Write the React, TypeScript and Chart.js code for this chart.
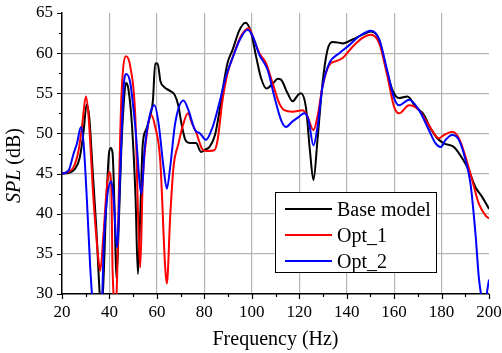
import React, { useEffect, useRef } from "react";
import { Chart, registerables } from "chart.js";

Chart.register(...registerables);

const baseFreq = [20, 23, 25.5, 27.5, 29, 30.4, 31.5, 33, 34.5, 35.8, 36.5, 37.3, 38.5, 39.8, 40.5, 41.3, 42.2, 42.9, 43.5, 45, 46.2, 47, 48, 49.5, 51, 52, 53, 54, 55.5, 57, 58.3, 59.3, 60.3, 61.5, 63, 65.5, 67.5, 69, 70.5, 72, 74, 76.5, 78.6, 80.5, 82.1, 84.5, 86.5, 87.7, 89.8, 91.9, 94.7, 97.3, 99.6, 101.8, 103.9, 106.2, 108.8, 111, 112.3, 115.1, 117.2, 119.5, 120.7, 122.8, 124.5, 126, 127.7, 129.8, 131.9, 134, 136.8, 138.3, 142.5, 146.7, 150.2, 153.7, 156.5, 159.3, 162.1, 165.6, 169.1, 172.6, 175.4, 178.2, 181, 185.2, 188.7, 191.5, 194.3, 197.1, 200];
const baseSpl = [45, 45.1, 45.6, 47, 50, 53.6, 52, 45, 38, 30.5, 28, 30.5, 40, 47.5, 48.2, 47.6, 40, 32, 35, 48, 54.5, 56.3, 55.5, 51, 42, 32.5, 40, 48.5, 50.5, 52, 54, 58.7, 58.7, 56.5, 55.8, 55.3, 54.8, 53.5, 51, 49.2, 48.8, 48.8, 47.7, 48, 48.3, 49.8, 53, 55.4, 58.8, 60.4, 62.8, 63.8, 62.7, 59.6, 56.9, 55.6, 56.2, 56.8, 56.7, 55, 54, 54.8, 55, 53.3, 47.9, 44.2, 49.2, 56.2, 60.4, 61.4, 61.3, 61.2, 61.7, 62.3, 62.7, 61.7, 58.3, 55.4, 54.4, 54.6, 53.3, 52.3, 50.6, 49.4, 48.75, 48.3, 46.9, 45.4, 43.3, 42.1, 40.6];

const opt1Freq = [20, 22.5, 24.9, 27, 28.4, 30.1, 31.2, 33.3, 35.4, 36.1, 37.5, 38.9, 39.9, 40.8, 41.3, 42.2, 42.7, 43.3, 43.9, 45, 47, 48.8, 50.9, 52.3, 53, 54, 55.8, 57.6, 59.3, 61.4, 63.5, 64.2, 65.6, 67, 69.1, 71.2, 73.1, 74.8, 76.5, 77.6, 79, 80.7, 84.2, 85.6, 87.7, 89.8, 92.6, 95.4, 98.7, 100.4, 103.2, 106, 108.8, 111.6, 113.7, 117.2, 121.4, 123.5, 126, 127.7, 129.8, 132.6, 135.5, 138.3, 142.5, 146.7, 150.2, 153.7, 157.2, 160, 162.1, 166.3, 170.5, 174.7, 178.9, 181, 184.5, 187.3, 190.1, 192.9, 195.7, 198.5, 200];
const opt1Spl = [45, 45.2, 45.8, 47.9, 50.8, 54.6, 52.1, 41.7, 34.2, 32.9, 37.5, 43.3, 45.2, 43.3, 33.3, 28.5, 28, 33, 41.7, 54.2, 59.6, 58.3, 52.1, 37.5, 33.3, 43.75, 50, 52.3, 50.8, 46.7, 33.3, 31.3, 39.6, 45.8, 48.75, 51.25, 52.5, 51.25, 50.2, 49.2, 48.1, 47.8, 47.9, 49.2, 54.2, 57.5, 60, 62.1, 63.1, 62.1, 60, 58.75, 56.25, 53.75, 52.9, 52.7, 52.9, 52.1, 50.4, 52.1, 55.8, 58.5, 59, 59.4, 60.8, 61.9, 62.3, 61.25, 57.1, 53.3, 52.5, 53.5, 52.9, 51, 49.4, 49.8, 50.2, 49.4, 47.1, 44.2, 41.25, 39.8, 39.4];

const opt2Freq = [20, 22.8, 24.9, 26.3, 28, 29.1, 30.5, 31.9, 32.6, 33.5, 34.5, 36, 37, 37.5, 38.9, 40.8, 41.8, 43.2, 44.6, 46, 47.1, 48.8, 50.9, 53.5, 54.8, 57.2, 59, 60.7, 62.8, 64.2, 65.6, 67.7, 71.2, 73.3, 76.1, 78.2, 80.7, 83.5, 86.3, 89.1, 91.9, 94.7, 98.2, 100.4, 103.2, 106.7, 109.5, 112.3, 114.4, 117.2, 120, 122.1, 123.9, 126, 127.7, 129.8, 132.6, 136.9, 141.1, 145.3, 150.2, 153.7, 157.2, 160, 162.1, 166.3, 170.5, 174.7, 177.5, 179.6, 181.7, 184.5, 187.3, 190.1, 192.2, 194.3, 195.7, 196.6, 197.5, 198.5, 199.2, 200];
const opt2Spl = [45, 45.4, 47.5, 48.75, 50.8, 48.75, 41.7, 33.3, 30, 26, 25, 26, 30, 35.4, 41.7, 44, 41.7, 35.8, 45.8, 55.8, 57.4, 56.25, 50.8, 42.5, 47.9, 52.5, 53.5, 51.25, 45.8, 43.1, 45.8, 51.25, 54.1, 52.9, 50.4, 50, 49.2, 50.8, 53.75, 57.1, 59.4, 61.5, 62.9, 62.1, 59.8, 57.9, 54.6, 51.7, 50.8, 51.5, 52.1, 52.5, 51.7, 48.5, 50.8, 55.8, 58.7, 60, 61, 62.1, 62.8, 61.7, 57.7, 54.4, 53.5, 54.2, 52.9, 50.4, 48.75, 48.3, 49.2, 49.8, 49.2, 46.7, 43.75, 37.5, 32.1, 30, 28, 28.5, 30.3, 31.8];

const seriesNames = ["Base model", "Opt_1", "Opt_2"];
const seriesColors = ["#000000", "#ff0000", "#0000ff"];

const xTicks = { min: 20, max: 200, step: 20, minor: 10 };
const yTicks = { min: 30, max: 65, step: 5, minor: 2.5 };

const FONT = "'Liberation Serif', 'Times New Roman', serif";

function toPoints(xs: number[], ys: number[]) {
  return xs.map((x, i) => ({ x, y: ys[i] }));
}

const decorPlugin = {
  id: "decor",
  afterDraw(chart: any) {
    const ctx = chart.ctx;
    const area = chart.chartArea;
    const xs = chart.scales.x;
    const ys = chart.scales.y;
    ctx.save();
    ctx.strokeStyle = "#000";
    ctx.lineWidth = 1.2;
    ctx.beginPath();
    for (let v = xTicks.min; v <= xTicks.max + 1e-6; v += xTicks.minor) {
      const px = Math.round(xs.getPixelForValue(v)) + 0.5;
      const major = Math.abs(v / xTicks.step - Math.round(v / xTicks.step)) < 1e-6;
      const len = major ? 5 : 3;
      ctx.moveTo(px, area.bottom);
      ctx.lineTo(px, area.bottom + len);
    }
    for (let v = yTicks.min; v <= yTicks.max + 1e-6; v += yTicks.minor) {
      const py = Math.round(ys.getPixelForValue(v)) + 0.5;
      const major = Math.abs(v / yTicks.step - Math.round(v / yTicks.step)) < 1e-6;
      const len = major ? 5 : 3;
      ctx.moveTo(area.left, py);
      ctx.lineTo(area.left - len, py);
    }
    ctx.stroke();

    ctx.fillStyle = "#000";
    ctx.font = `20px ${FONT}`;
    ctx.textAlign = "center";
    ctx.textBaseline = "alphabetic";
    ctx.fillText("Frequency (Hz)", (area.left + area.right) / 2, 345);

    ctx.save();
    ctx.translate(20, (area.top + area.bottom) / 2 + 12);
    ctx.rotate(-Math.PI / 2);
    ctx.textAlign = "left";
    ctx.font = `italic 20px ${FONT}`;
    const w1 = ctx.measureText("SPL").width;
    ctx.font = `20px ${FONT}`;
    const w2 = ctx.measureText(" (dB)").width;
    const start = -(w1 + w2) / 2;
    ctx.font = `italic 20px ${FONT}`;
    ctx.fillText("SPL", start, 0);
    ctx.font = `20px ${FONT}`;
    ctx.fillText(" (dB)", start + w1, 0);
    ctx.restore();

    const bx = 275.5, by = 192.5, bw = 161, bh = 80;
    ctx.fillStyle = "#fff";
    ctx.fillRect(bx, by, bw, bh);
    ctx.strokeStyle = "#000";
    ctx.lineWidth = 1;
    ctx.strokeRect(bx, by, bw, bh);
    ctx.font = `20px ${FONT}`;
    ctx.textAlign = "left";
    ctx.textBaseline = "alphabetic";
    seriesNames.forEach((name, i) => {
      const ry = 209 + i * 26;
      ctx.strokeStyle = seriesColors[i];
      ctx.lineWidth = 2;
      ctx.beginPath();
      ctx.moveTo(285, ry);
      ctx.lineTo(332, ry);
      ctx.stroke();
      ctx.fillStyle = "#000";
      ctx.fillText(name, 337, ry + 7);
    });
    ctx.restore();
  },
};

export default function App() {
  const ref = useRef<HTMLCanvasElement | null>(null);
  useEffect(() => {
    if (!ref.current) return;
    const gridColor = (c: any, min: number, max: number) =>
      c.tick && (c.tick.value === min || c.tick.value === max) ? "rgba(0,0,0,0)" : "#b4b4b4";
    const chart = new Chart(ref.current, {
      type: "line",
      data: {
        datasets: [
          { label: seriesNames[0], data: toPoints(baseFreq, baseSpl), borderColor: seriesColors[0], order: 3 },
          { label: seriesNames[1], data: toPoints(opt1Freq, opt1Spl), borderColor: seriesColors[1], order: 2 },
          { label: seriesNames[2], data: toPoints(opt2Freq, opt2Spl), borderColor: seriesColors[2], order: 1 },
        ].map((d) => ({
          ...d,
          borderWidth: 2,
          pointRadius: 0,
          fill: false,
          cubicInterpolationMode: "monotone" as const,
          clip: 0,
        })),
      },
      options: {
        animation: false,
        responsive: true,
        maintainAspectRatio: false,
        layout: { padding: { left: 0, top: 13, right: 13, bottom: 0 } },
        plugins: { legend: { display: false }, tooltip: { enabled: false } },
        scales: {
          x: {
            type: "linear",
            min: xTicks.min,
            max: xTicks.max,
            afterFit: (s: any) => { s.height = 59; s.paddingLeft = 0; s.paddingRight = 0; },
            ticks: { stepSize: xTicks.step, color: "#000", font: { family: FONT, size: 17 }, padding: 8, maxRotation: 0 },
            grid: { color: (c: any) => gridColor(c, xTicks.min, xTicks.max), drawTicks: false, lineWidth: 1.2 },
            border: { display: true, color: "#000", width: 1.5 },
          },
          y: {
            type: "linear",
            min: yTicks.min,
            max: yTicks.max,
            afterFit: (s: any) => { s.width = 62; s.paddingTop = 0; s.paddingBottom = 0; },
            ticks: { stepSize: yTicks.step, color: "#000", font: { family: FONT, size: 17 }, padding: 9 },
            grid: { color: (c: any) => gridColor(c, yTicks.min, yTicks.max), drawTicks: false, lineWidth: 1.2 },
            border: { display: true, color: "#000", width: 1.5 },
          },
        },
      },
      plugins: [decorPlugin],
    });
    return () => chart.destroy();
  }, []);
  return (
    <div style={{ position: "absolute", left: 0, top: 0, width: 502, height: 353, background: "#fff" }}>
      <canvas ref={ref} />
    </div>
  );
}
